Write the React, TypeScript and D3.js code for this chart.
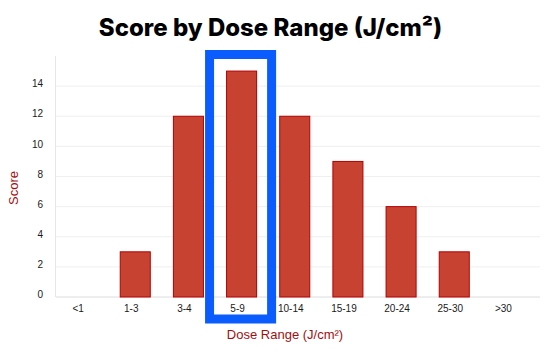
import React from "react";
import * as d3 from "d3";

const categories = ["<1", "1-3", "3-4", "5-9", "10-14", "15-19", "20-24", "25-30", ">30"];
const scores = [0, 3, 12, 15, 12, 9, 6, 3, 0];
const yTicks = [0, 2, 4, 6, 8, 10, 12, 14];
const highlighted = "5-9";

const W = 550;
const H = 358;
const m = { left: 56, right: 10, top: 56, bottom: 61 };
const small = "'Liberation Sans', Arial, sans-serif";

export default function App() {
  const x = d3.scaleBand<string>().domain(categories).range([55.5, 534]).paddingInner(0.435).paddingOuter(0.2175);
  const y = d3.scaleLinear().domain([0, 16]).range([H - m.bottom, m.top]);
  const baseY = y(0);
  const hx = x(highlighted)!;
  const bw = x.bandwidth();

  return (
    <svg width={W} height={H} style={{ position: "absolute", left: 0, top: 0, background: "#fff" }} fontFamily="Inter, 'Noto Sans', sans-serif">
      <text x={270.5} y={36} textAnchor="middle" fontSize={24} fontWeight={800} fill="#000">
        Score by Dose Range (J/cm²)
      </text>
      {yTicks.map((t) => (
        <g key={t}>
          {t > 0 && <line x1={56} x2={540} y1={y(t)} y2={y(t)} stroke="#efefef" strokeWidth={1} />}
          <text x={43} y={y(t) - 1.5} textAnchor="end" dominantBaseline="middle" fontSize={10} fill="#1a1a1a" fontFamily={small}>
            {t}
          </text>
        </g>
      ))}
      <line x1={55.5} x2={55.5} y1={m.top} y2={baseY} stroke="#e6e6e6" />
      <line x1={56} x2={540} y1={baseY} y2={baseY} stroke="#dcdcdc" />
      {categories.map((c, i) =>
        scores[i] > 0 ? (
          <rect key={c} x={x(c)!} y={y(scores[i])} width={bw} height={baseY - y(scores[i])} fill="#c84232" stroke="#b30000" strokeWidth={1} />
        ) : null
      )}
      {categories.map((c) => (
        <text key={c} x={x(c)! + bw / 2 - 4} y={312} textAnchor="middle" fontSize={10} fill="#1a1a1a" fontFamily={small}>
          {c}
        </text>
      ))}
      <rect x={hx - 17} y={54.5} width={bw + 32} height={264.5} fill="none" stroke="#0a5cff" strokeWidth={9} />
      <text transform={`translate(18,188) rotate(-90)`} textAnchor="middle" fontSize={13} fill="#a30f0f" fontFamily={small}>
        Score
      </text>
      <text x={285} y={339} textAnchor="middle" fontSize={13} fill="#a30f0f" fontFamily={small}>
        Dose Range (J/cm²)
      </text>
    </svg>
  );
}
